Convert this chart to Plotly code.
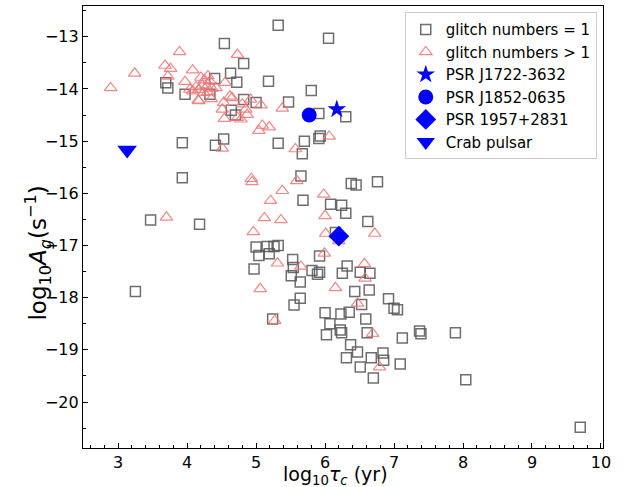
import plotly.graph_objects as go

# glitch numbers = 1 (log10 tau_c [yr], log10 A_g [s^-1])
sq_x = [5.32, 6.05, 4.54, 4.82, 4.63, 4.72, 5.18, 4.40, 3.72, 3.69, 3.97, 4.33, 5.80, 4.82, 5.00,
        5.47, 4.64, 4.70, 5.91, 6.30, 3.93, 4.41, 4.53, 5.32, 5.70, 5.91, 5.93, 5.67, 3.93, 5.65,
        6.38, 6.45, 6.76, 5.68, 6.08, 6.24, 6.30, 3.47, 4.18, 6.62, 6.15, 5.00, 5.04, 5.16, 5.19,
        5.26, 5.32, 4.97, 5.53, 5.54, 5.51, 5.64, 5.64, 5.55, 5.81, 5.89, 5.92, 5.92, 6.32, 6.25,
        6.51, 6.65, 6.43, 6.64, 6.92, 7.00, 7.05, 6.53, 5.24, 6.00, 6.23, 6.35, 6.59, 6.07, 6.02,
        6.22, 6.24, 6.61, 7.37, 7.39, 7.89, 7.12, 6.37, 6.47, 6.31, 6.67, 6.84, 6.85, 6.51, 7.09,
        6.70, 8.04, 9.70, 3.25]
sq_y = [-12.78, -13.03, -13.13, -13.51, -13.70, -13.87, -13.85, -13.80, -13.98, -13.88, -14.10, -14.10, -14.03, -14.20, -14.26,
        -14.25, -14.41, -14.50, -14.47, -14.53, -15.03, -15.08, -14.96, -15.04, -15.00, -14.95, -14.90, -15.24, -15.70, -15.67,
        -15.81, -15.84, -15.78, -16.13, -16.21, -16.23, -16.38, -16.51, -16.59, -16.54, -16.75, -17.03, -17.19, -17.02, -17.16,
        -17.02, -17.00, -17.45, -17.27, -17.42, -17.58, -17.70, -18.01, -18.14, -17.48, -17.55, -17.51, -17.20, -17.39, -17.53,
        -17.51, -17.53, -17.88, -17.85, -18.02, -18.20, -18.23, -18.13, -18.41, -18.29, -18.31, -18.28, -18.41, -18.50, -18.71,
        -18.62, -18.67, -18.67, -18.64, -18.69, -18.67, -18.77, -18.90, -19.04, -19.15, -19.15, -19.06, -19.20, -19.33, -19.27,
        -19.54, -19.57, -20.48, -17.88]

# glitch numbers > 1
tr_x = [2.89, 3.24, 3.89, 4.73, 3.68, 3.76, 3.72, 4.08, 3.97, 4.20, 4.25, 4.30, 4.33, 4.22, 4.28,
        4.13, 4.17, 4.08, 4.36, 4.42, 4.30, 4.24, 4.35, 4.17, 4.04, 4.55, 4.62, 4.65, 4.53, 4.51,
        4.54, 4.80, 4.92, 5.07, 4.85, 4.87, 4.78, 4.73, 5.09, 5.19, 5.04, 5.38, 6.06, 4.51, 5.57,
        4.93, 4.94, 5.59, 5.38, 5.21, 5.98, 3.70, 5.12, 5.36, 6.00, 4.96, 6.01, 6.20, 6.72, 5.31,
        5.65, 5.99, 5.06, 6.57, 6.58, 6.15, 6.47, 5.27, 6.69, 6.79, 4.16]
tr_y = [-13.98, -13.70, -13.29, -13.34, -13.55, -13.61, -13.76, -13.64, -13.86, -13.78, -13.83, -13.75, -13.85, -13.93, -13.96,
        -13.96, -14.01, -14.04, -13.99, -13.98, -14.06, -14.07, -14.19, -14.23, -14.01, -13.88, -14.14, -14.17, -14.26, -14.39,
        -14.57, -14.29, -14.20, -14.31, -14.39, -14.49, -14.58, -14.55, -14.70, -14.73, -14.80, -14.37, -14.91, -15.14, -15.15,
        -15.72, -15.78, -15.76, -15.95, -16.14, -16.02, -16.46, -16.47, -16.51, -16.43, -16.74, -16.77, -16.91, -16.77, -17.34,
        -17.40, -17.15, -17.83, -17.35, -17.63, -17.81, -18.11, -18.44, -18.69, -19.33, -14.22]

# individual pulsars
psr_names = ["PSR J1722-3632", "PSR J1852-0635", "PSR 1957+2831", "Crab pulsar"]
psr_x = [6.17, 5.77, 6.20, 3.13]
psr_y = [-14.39, -14.50, -16.82, -15.17]
psr_symbols = ["star", "circle", "diamond", "triangle-down"]
psr_sizes = [14, 15, 16, 17]

x_title = "log<sub>10</sub><i>τ</i><sub><i>c</i></sub> (yr)"
y_title = "log<sub>10</sub><i>A</i><sub><i>g</i></sub>(s<sup>−1</sup>)"

fig = go.Figure()
fig.add_trace(go.Scatter(
    x=sq_x, y=sq_y, mode="markers", name="glitch numbers = 1",
    marker=dict(symbol="square-open", size=10, color="rgba(85,85,85,0.85)",
                line=dict(width=1.5, color="rgba(85,85,85,0.85)"))))
fig.add_trace(go.Scatter(
    x=tr_x, y=tr_y, mode="markers", name="glitch numbers > 1",
    marker=dict(symbol="triangle-up-open", size=11, color="rgba(240,115,115,0.85)",
                line=dict(width=1.2, color="rgba(240,115,115,0.85)"))))
for n, x, y, s, sz in zip(psr_names, psr_x, psr_y, psr_symbols, psr_sizes):
    fig.add_trace(go.Scatter(
        x=[x], y=[y], mode="markers", name=n,
        marker=dict(symbol=s, size=sz, color="#0000ff", line=dict(width=0))))

axis_common = dict(
    showline=True, mirror=True, linecolor="black", linewidth=1.2,
    ticks="inside", ticklen=5, tickwidth=1, tickcolor="black",
    showgrid=False, zeroline=False, automargin=False,
    tickfont=dict(family="DejaVu Sans", size=16, color="black"),
)
fig.update_xaxes(range=[2.49, 10.03], dtick=1, tick0=0,
                 minor=dict(ticks="inside", dtick=0.2, ticklen=2.5, tickcolor="black"),
                 **axis_common)
fig.update_yaxes(range=[-20.88, -12.41], dtick=1, tick0=0,
                 minor=dict(ticks="inside", dtick=0.5, ticklen=2.5, tickcolor="black"),
                 **axis_common)
fig.update_layout(
    width=623, height=487,
    margin=dict(l=83, r=20, t=6, b=39),
    plot_bgcolor="white", paper_bgcolor="white",
    font=dict(family="DejaVu Sans", color="black"),
    legend=dict(x=0.988, y=0.986, xanchor="right", yanchor="top",
                bgcolor="white", bordercolor="#cccccc", borderwidth=1,
                font=dict(family="DejaVu Sans", size=15, color="black"),
                itemsizing="trace"),
    annotations=[
        dict(text=x_title, xref="paper", yref="paper", x=0.485, y=0, yshift=-42,
             xanchor="center", yanchor="bottom", showarrow=False,
             font=dict(family="DejaVu Sans", size=19, color="black")),
        dict(text=y_title, xref="paper", yref="paper", x=0, y=0.44, xshift=-45,
             xanchor="center", yanchor="middle", textangle=-90, showarrow=False,
             font=dict(family="DejaVu Sans", size=23, color="black")),
    ],
)
fig.write_html("out.html")
